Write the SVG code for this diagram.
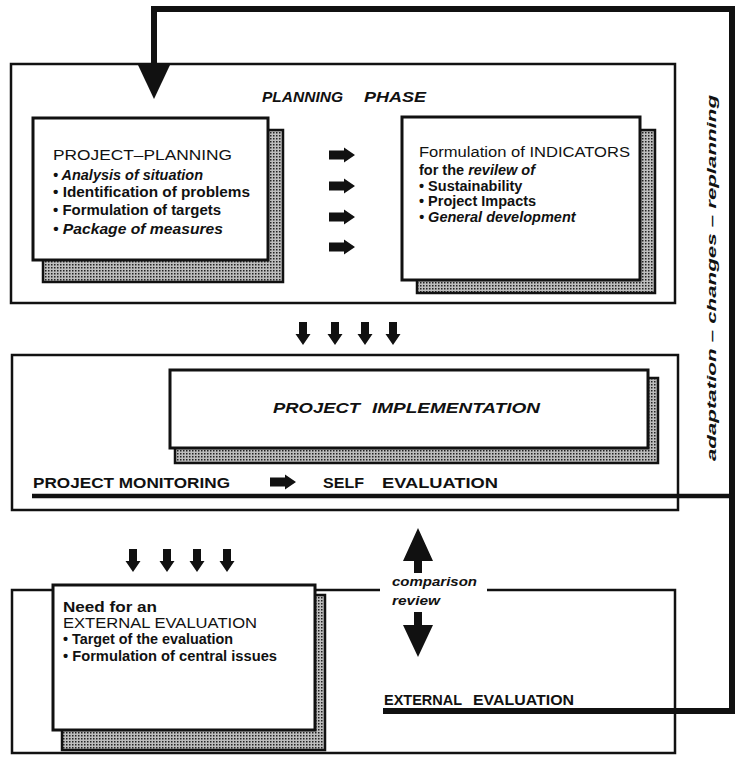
<svg xmlns="http://www.w3.org/2000/svg" width="738" height="759" viewBox="0 0 738 759">
<style>
.t{font-family:"Liberation Sans",Arial,Helvetica,sans-serif;fill:#111}
.b{font-weight:bold}
.i{font-style:italic}
.box{fill:#fff;stroke:#111;stroke-width:3}
.frame{fill:none;stroke:#111;stroke-width:2.5}
.shadow{fill:url(#dots);stroke:#111;stroke-width:2.5}
.arr{fill:#111}
.loop{fill:none;stroke:#111;stroke-linejoin:miter}
</style>
<defs>
<pattern id="dots" width="3" height="3" patternUnits="userSpaceOnUse">
<rect width="3" height="3" fill="#bdbdbd"/>
<rect width="1.5" height="1.5" fill="#222"/>
</pattern>
<path id="ra" d="M0,-4.5 H15 V-7.5 L26,0 L15,7.5 V4.5 H0 Z"/>
<path id="da" d="M-4,0 H4 V12 H7.5 L0,23 L-7.5,12 H-4 Z"/>
</defs>
<rect width="738" height="759" fill="#fff"/>

<g id="planning-phase">
<rect class="frame" x="11" y="64" width="664" height="239"/>
<text class="t b i" x="262" y="102" font-size="15" textLength="81" lengthAdjust="spacingAndGlyphs">PLANNING</text>
<text class="t b i" x="364" y="102" font-size="15" textLength="62" lengthAdjust="spacingAndGlyphs">PHASE</text>
</g>

<g id="project-planning">
<rect class="shadow" x="43" y="130" width="240" height="152"/>
<rect class="box" x="33" y="118" width="235" height="142"/>
<text class="t" x="53" y="160" font-size="15.5" textLength="179" lengthAdjust="spacingAndGlyphs">PROJECT–PLANNING</text>
<text class="t b i" x="53" y="180" font-size="14.5" textLength="150" lengthAdjust="spacingAndGlyphs">• Analysis of situation</text>
<text class="t b" x="53" y="197" font-size="14.5" textLength="197" lengthAdjust="spacingAndGlyphs">• Identification of problems</text>
<text class="t b" x="53" y="215" font-size="14.5" textLength="168" lengthAdjust="spacingAndGlyphs">• Formulation of targets</text>
<text class="t b i" x="53" y="234" font-size="14.5" textLength="170" lengthAdjust="spacingAndGlyphs">• Package of measures</text>
</g>

<g id="indicators">
<rect class="shadow" x="417" y="130" width="238" height="163"/>
<rect class="box" x="402" y="117" width="238" height="163"/>
<text class="t" x="419" y="157" font-size="15.5" textLength="211" lengthAdjust="spacingAndGlyphs">Formulation of INDICATORS</text>
<text class="t b" x="419" y="175" font-size="14.5">for the <tspan class="i">revilew of</tspan></text>
<text class="t b" x="419" y="191" font-size="14.5">• Sustainability</text>
<text class="t b" x="419" y="206" font-size="14.5">• Project Impacts</text>
<text class="t b i" x="419" y="222" font-size="14.5">• General development</text>
</g>

<g id="implementation-phase">
<rect class="frame" x="12" y="355" width="666" height="155"/>
<text class="t b" x="33" y="488" font-size="15" textLength="197" lengthAdjust="spacingAndGlyphs">PROJECT MONITORING</text>
<text class="t b" x="323" y="488" font-size="15.5" textLength="41" lengthAdjust="spacingAndGlyphs">SELF</text>
<text class="t b" x="382" y="488" font-size="15.5" textLength="116" lengthAdjust="spacingAndGlyphs">EVALUATION</text>
</g>

<g id="project-implementation">
<rect class="shadow" x="175" y="378" width="483" height="85"/>
<rect class="box" x="170" y="370" width="478" height="78"/>
<text class="t b i" x="273" y="413" font-size="15" textLength="87" lengthAdjust="spacingAndGlyphs">PROJECT</text>
<text class="t b i" x="372" y="413" font-size="15" textLength="168" lengthAdjust="spacingAndGlyphs">IMPLEMENTATION</text>
</g>

<g id="external-evaluation">
<path class="frame" d="M380,590 H12 V753 H675 V590 H487"/>
<text class="t b" x="384" y="705" font-size="15" textLength="78" lengthAdjust="spacingAndGlyphs">EXTERNAL</text>
<text class="t b" x="473" y="705" font-size="15" textLength="101" lengthAdjust="spacingAndGlyphs">EVALUATION</text>
</g>

<g id="need-external">
<rect class="shadow" x="62" y="595" width="263" height="155"/>
<rect class="box" x="53" y="585" width="262" height="145"/>
<text class="t b" x="63" y="612" font-size="14" textLength="94" lengthAdjust="spacingAndGlyphs">Need for an</text>
<text class="t" x="63" y="628" font-size="14.5" textLength="194" lengthAdjust="spacingAndGlyphs">EXTERNAL EVALUATION</text>
<text class="t b" x="63" y="644" font-size="14" textLength="170" lengthAdjust="spacingAndGlyphs">• Target of the evaluation</text>
<text class="t b" x="63" y="661" font-size="14" textLength="214" lengthAdjust="spacingAndGlyphs">• Formulation of central issues</text>
</g>

<g id="connectors">
<path class="loop" stroke-width="6" d="M383,711 H732 V9 H154 V66"/>
<path class="loop" stroke-width="4.5" d="M32,496 H732"/>
<polygon class="arr" points="138,65 170,65 154,99"/>
<use href="#ra" class="arr" x="329" y="155"/>
<use href="#ra" class="arr" x="329" y="186"/>
<use href="#ra" class="arr" x="329" y="217"/>
<use href="#ra" class="arr" x="329" y="247"/>
<use href="#ra" class="arr" x="270" y="482"/>
<use href="#da" class="arr" x="303" y="322"/>
<use href="#da" class="arr" x="335" y="322"/>
<use href="#da" class="arr" x="365" y="322"/>
<use href="#da" class="arr" x="393" y="322"/>
<use href="#da" class="arr" x="133" y="549"/>
<use href="#da" class="arr" x="167" y="549"/>
<use href="#da" class="arr" x="197" y="549"/>
<use href="#da" class="arr" x="227" y="549"/>
<path class="arr" d="M414,573 V561 H403 L418,528 L433,561 H422 V573 Z"/>
<path class="arr" d="M414,612 V625 H403 L418,657 L433,625 H422 V612 Z"/>
<text class="t b i" x="392" y="586" font-size="12.5" textLength="85" lengthAdjust="spacingAndGlyphs">comparison</text>
<text class="t b i" x="392" y="605" font-size="12.5" textLength="48" lengthAdjust="spacingAndGlyphs">review</text>
<text class="t b i" transform="translate(716,278) rotate(-90)" text-anchor="middle" font-size="12.5" textLength="366" lengthAdjust="spacingAndGlyphs">adaptation – changes – replanning</text>
</g>
</svg>
